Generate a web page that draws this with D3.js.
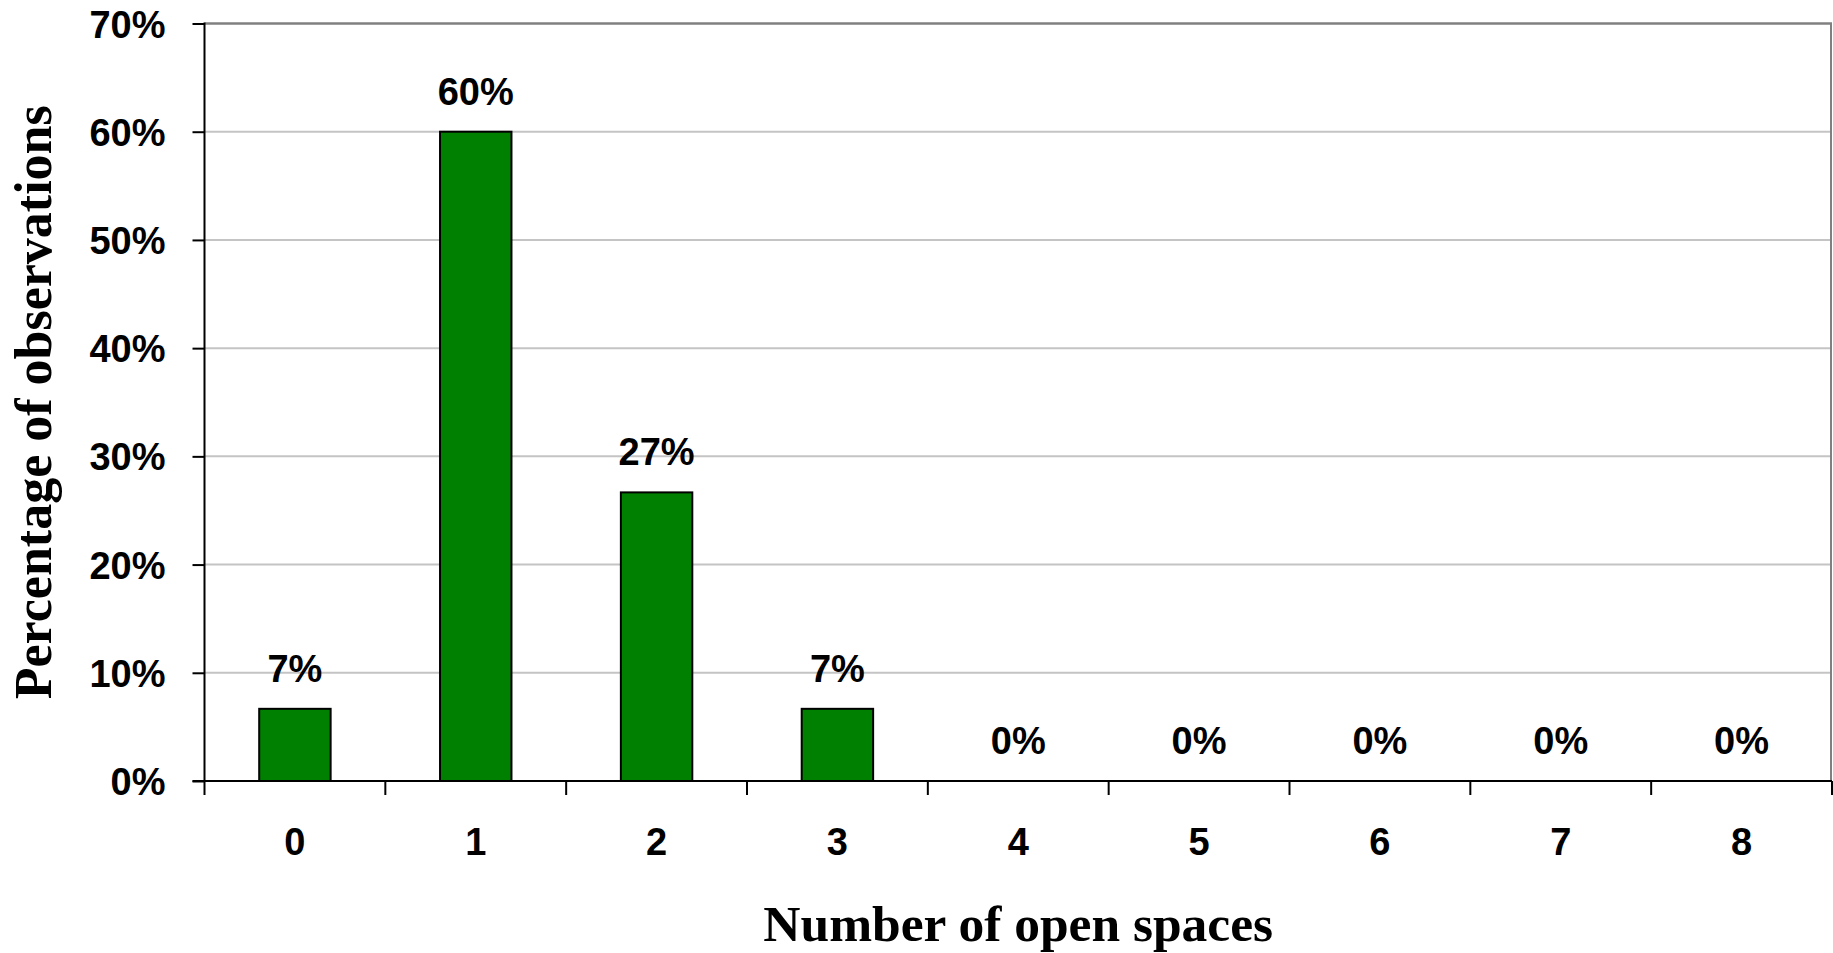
<!DOCTYPE html>
<html>
<head>
<meta charset="utf-8">
<script src="https://cdn.jsdelivr.net/npm/d3@7"></script>
<style>
  body { margin: 0; background: #fff; }
  svg { display: block; }
</style>
</head>
<body>
<svg id="chart"></svg>
<script>
// data (15 observations -> 1/15 steps)
var categories = ["0", "1", "2", "3", "4", "5", "6", "7", "8"];
var values = [6.67, 60, 26.67, 6.67, 0, 0, 0, 0, 0];
var valueLabels = ["7%", "60%", "27%", "7%", "0%", "0%", "0%", "0%", "0%"];
var yTicks = [0, 10, 20, 30, 40, 50, 60, 70];

var width = 1833, height = 953;
var plotLeft = 204.5, plotRight = 1832, plotTop = 23.5, plotBottom = 781;

var svg = d3.select("#chart")
    .attr("width", width)
    .attr("height", height);

var x = d3.scaleBand()
    .domain(categories)
    .range([plotLeft, plotRight])
    .paddingInner(0.605)
    .paddingOuter(0.3025);

var xOuter = d3.scaleBand().domain(categories).range([plotLeft, plotRight]);

var y = d3.scaleLinear()
    .domain([0, 70])
    .range([plotBottom, plotTop]);

var rows = values.map(function(v, i) {
  return { cat: categories[i], value: v, label: valueLabels[i] };
});

// gridlines
svg.append("g")
    .selectAll("line")
    .data(yTicks.filter(function(d) { return d > 0 && d < 70; }))
    .enter().append("line")
      .attr("x1", plotLeft).attr("x2", plotRight)
      .attr("y1", function(d) { return y(d); })
      .attr("y2", function(d) { return y(d); })
      .attr("stroke", "#c4c4c4")
      .attr("stroke-width", 2);

// top + right frame
svg.append("line")
    .attr("x1", plotLeft).attr("x2", plotRight)
    .attr("y1", y(70)).attr("y2", y(70))
    .attr("stroke", "#808080").attr("stroke-width", 2.5);
svg.append("line")
    .attr("x1", plotRight - 1).attr("x2", plotRight - 1)
    .attr("y1", y(70)).attr("y2", plotBottom)
    .attr("stroke", "#808080").attr("stroke-width", 2);

// bars
svg.append("g")
    .selectAll("rect")
    .data(rows.filter(function(d) { return d.value > 0; }))
    .enter().append("rect")
      .attr("x", function(d) { return x(d.cat); })
      .attr("y", function(d) { return y(d.value); })
      .attr("width", x.bandwidth())
      .attr("height", function(d) { return plotBottom - y(d.value); })
      .attr("fill", "#008000")
      .attr("stroke", "#000")
      .attr("stroke-width", 2);

// value labels
svg.append("g")
    .selectAll("text")
    .data(rows)
    .enter().append("text")
      .attr("x", function(d) { return x(d.cat) + x.bandwidth() / 2; })
      .attr("y", function(d) { return y(d.value) - 27; })
      .attr("text-anchor", "middle")
      .attr("font-family", "'Liberation Sans', Arial, sans-serif")
      .attr("font-weight", "bold")
      .attr("font-size", 38)
      .text(function(d) { return d.label; });

// y axis
var yAxis = svg.append("g")
    .attr("transform", "translate(" + plotLeft + ",0)")
    .call(d3.axisLeft(y).tickValues(yTicks).tickSize(12).tickPadding(27)
      .tickFormat(function(d) { return d + "%"; }));
yAxis.select(".domain").remove();
yAxis.selectAll(".tick line").attr("stroke", "#000").attr("stroke-width", 2);
yAxis.selectAll(".tick text")
    .attr("dy", null)
    .attr("y", 13.5)
    .attr("font-family", "'Liberation Sans', Arial, sans-serif")
    .attr("font-weight", "bold")
    .attr("font-size", 38)
    .attr("fill", "#000");
svg.append("line")
    .attr("x1", plotLeft).attr("x2", plotLeft)
    .attr("y1", plotTop - 1).attr("y2", plotBottom + 14)
    .attr("stroke", "#000").attr("stroke-width", 2);

// x axis (ticks on band boundaries)
var xAxis = svg.append("g")
    .attr("transform", "translate(0," + plotBottom + ")");
xAxis.append("line")
    .attr("x1", plotLeft - 12).attr("x2", plotRight)
    .attr("stroke", "#000").attr("stroke-width", 2);
xAxis.selectAll(".bound")
    .data(categories)
    .enter().append("line")
      .attr("class", "bound")
      .attr("x1", function(d) { return xOuter(d) + xOuter.bandwidth(); })
      .attr("x2", function(d) { return xOuter(d) + xOuter.bandwidth(); })
      .attr("y1", 0).attr("y2", 14)
      .attr("stroke", "#000").attr("stroke-width", 2);
xAxis.selectAll(".lbl")
    .data(categories)
    .enter().append("text")
      .attr("class", "lbl")
      .attr("x", function(d) { return x(d) + x.bandwidth() / 2; })
      .attr("y", 74)
      .attr("text-anchor", "middle")
      .attr("font-family", "'Liberation Sans', Arial, sans-serif")
      .attr("font-weight", "bold")
      .attr("font-size", 38)
      .text(function(d) { return d; });

// axis titles
svg.append("text")
    .attr("x", (plotLeft + plotRight) / 2)
    .attr("y", 941)
    .attr("text-anchor", "middle")
    .attr("font-family", "'Liberation Serif', 'Times New Roman', serif")
    .attr("font-weight", "bold")
    .attr("font-size", 51.5)
    .text("Number of open spaces");

svg.append("text")
    .attr("transform", "translate(51," + (plotTop + plotBottom) / 2 + ") rotate(-90)")
    .attr("text-anchor", "middle")
    .attr("font-family", "'Liberation Serif', 'Times New Roman', serif")
    .attr("font-weight", "bold")
    .attr("font-size", 52)
    .text("Percentage of observations");
</script>
</body>
</html>
